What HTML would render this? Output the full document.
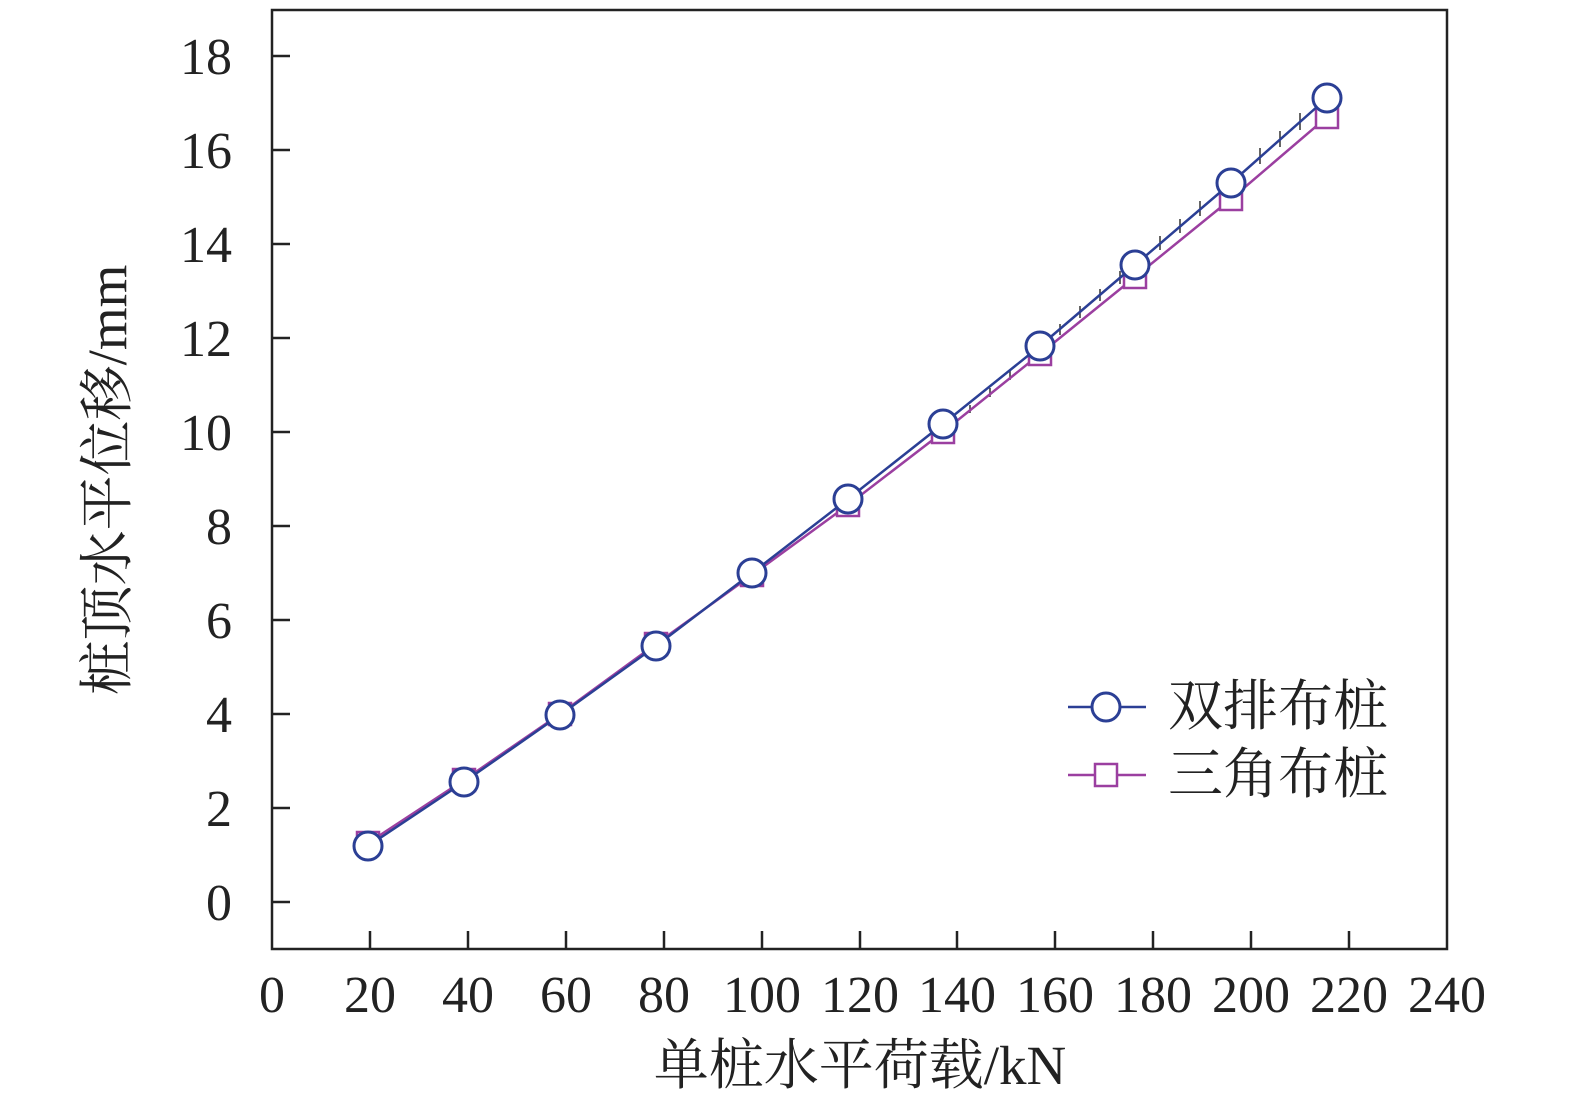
<!DOCTYPE html>
<html><head><meta charset="utf-8"><style>
html,body{margin:0;padding:0;background:#fff;}
svg text{font-family:"Liberation Serif","Noto Serif CJK SC",serif;fill:#222;}
</style></head><body>
<svg width="1575" height="1112" viewBox="0 0 1575 1112" xmlns="http://www.w3.org/2000/svg">
<rect x="272" y="10" width="1175" height="939" fill="none" stroke="#222" stroke-width="2.5"/>
<g stroke="#222" stroke-width="2.5">
<line x1="370" y1="949" x2="370" y2="931"/><line x1="468" y1="949" x2="468" y2="931"/><line x1="566" y1="949" x2="566" y2="931"/><line x1="664" y1="949" x2="664" y2="931"/><line x1="762" y1="949" x2="762" y2="931"/><line x1="860" y1="949" x2="860" y2="931"/><line x1="957" y1="949" x2="957" y2="931"/><line x1="1055" y1="949" x2="1055" y2="931"/><line x1="1153" y1="949" x2="1153" y2="931"/><line x1="1251" y1="949" x2="1251" y2="931"/><line x1="1349" y1="949" x2="1349" y2="931"/>
<line x1="272" y1="902" x2="290" y2="902"/><line x1="272" y1="808" x2="290" y2="808"/><line x1="272" y1="714" x2="290" y2="714"/><line x1="272" y1="620" x2="290" y2="620"/><line x1="272" y1="526" x2="290" y2="526"/><line x1="272" y1="432" x2="290" y2="432"/><line x1="272" y1="338" x2="290" y2="338"/><line x1="272" y1="244" x2="290" y2="244"/><line x1="272" y1="150" x2="290" y2="150"/><line x1="272" y1="56" x2="290" y2="56"/>
</g>
<g font-size="52" text-anchor="end">
<text x="232" y="920">0</text><text x="232" y="826">2</text><text x="232" y="732">4</text><text x="232" y="638">6</text><text x="232" y="544">8</text><text x="232" y="450">10</text><text x="232" y="356">12</text><text x="232" y="262">14</text><text x="232" y="168">16</text><text x="232" y="74">18</text>
</g>
<g font-size="52" text-anchor="middle">
<text x="272" y="1012">0</text><text x="370" y="1012">20</text><text x="468" y="1012">40</text><text x="566" y="1012">60</text><text x="664" y="1012">80</text><text x="762" y="1012">100</text><text x="860" y="1012">120</text><text x="957" y="1012">140</text><text x="1055" y="1012">160</text><text x="1153" y="1012">180</text><text x="1251" y="1012">200</text><text x="1349" y="1012">220</text><text x="1447" y="1012">240</text>
</g>
<text x="860" y="1084" font-size="55" text-anchor="middle">单桩水平荷载/kN</text>
<text transform="translate(126,480) rotate(-90)" font-size="55" text-anchor="middle">桩顶水平位移/mm</text>
<g stroke="#333" stroke-width="1.5">
<line x1="950" y1="423" x2="950" y2="430"/><line x1="970" y1="405" x2="970" y2="413"/><line x1="990" y1="388" x2="990" y2="397"/><line x1="1010" y1="371" x2="1010" y2="380"/><line x1="1030" y1="353" x2="1030" y2="362"/><line x1="1060" y1="324" x2="1060" y2="335"/><line x1="1080" y1="306" x2="1080" y2="318"/><line x1="1100" y1="289" x2="1100" y2="301"/><line x1="1120" y1="271" x2="1120" y2="284"/><line x1="1160" y1="236" x2="1160" y2="250"/><line x1="1180" y1="219" x2="1180" y2="233"/><line x1="1200" y1="201" x2="1200" y2="216"/><line x1="1220" y1="184" x2="1220" y2="199"/><line x1="1260" y1="148" x2="1260" y2="164"/><line x1="1280" y1="131" x2="1280" y2="147"/><line x1="1300" y1="113" x2="1300" y2="130"/><line x1="1320" y1="96" x2="1320" y2="113"/>
</g>
<polyline fill="none" stroke="#9b3fa0" stroke-width="2.5" points="368,843 464,780 560,714 656,644 752,575 848,505 943,432 1040,354 1135,277 1231,199 1327,117"/>
<g fill="#fff" stroke="#9b3fa0" stroke-width="2.5">
<rect x="357" y="832" width="22" height="22"/><rect x="453" y="769" width="22" height="22"/><rect x="549" y="703" width="22" height="22"/><rect x="645" y="633" width="22" height="22"/><rect x="741" y="564" width="22" height="22"/><rect x="837" y="494" width="22" height="22"/><rect x="932" y="421" width="22" height="22"/><rect x="1029" y="343" width="22" height="22"/><rect x="1124" y="266" width="22" height="22"/><rect x="1220" y="188" width="22" height="22"/><rect x="1316" y="106" width="22" height="22"/>
</g>
<polyline fill="none" stroke="#2b3f95" stroke-width="2.5" points="368,846 464,782 560,715 656,646 752,573 848,499 943,424 1040,346 1135,265 1231,183 1327,98"/>
<g fill="#fff" stroke="#2b3f95" stroke-width="3">
<circle cx="368" cy="846" r="14"/><circle cx="464" cy="782" r="14"/><circle cx="560" cy="715" r="14"/><circle cx="656" cy="646" r="14"/><circle cx="752" cy="573" r="14"/><circle cx="848" cy="499" r="14"/><circle cx="943" cy="424" r="14"/><circle cx="1040" cy="346" r="14"/><circle cx="1135" cy="265" r="14"/><circle cx="1231" cy="183" r="14"/><circle cx="1327" cy="98" r="14"/>
</g>
<line x1="1068" y1="707" x2="1146" y2="707" stroke="#2b3f95" stroke-width="2.5"/>
<circle cx="1106" cy="707" r="14" fill="#fff" stroke="#2b3f95" stroke-width="3"/>
<line x1="1068" y1="775" x2="1146" y2="775" stroke="#9b3fa0" stroke-width="2.5"/>
<rect x="1095" y="764" width="22" height="22" fill="#fff" stroke="#9b3fa0" stroke-width="2.5"/>
<text x="1168" y="725" font-size="55">双排布桩</text>
<text x="1168" y="793" font-size="55">三角布桩</text>
</svg>
</body></html>
